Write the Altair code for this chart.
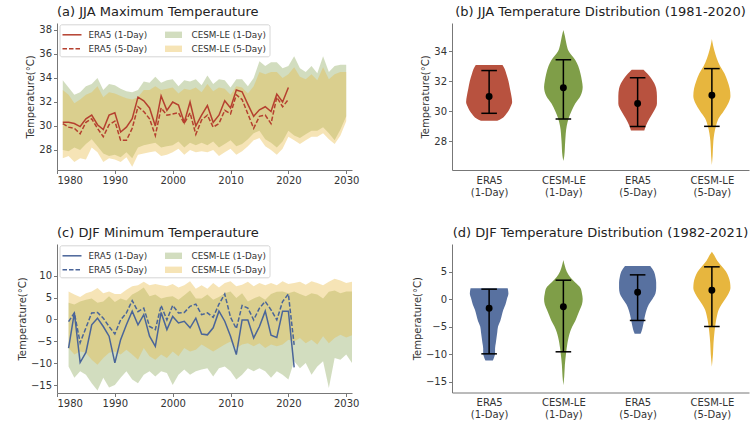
import altair as alt
import pandas as pd

FONT = "DejaVu Sans"

# ---------------- JJA maximum temperature (panel a) ----------------
jja_years = list(range(1981, 2021))
jja_era5_1day = [30.3, 30.3, 30.2, 29.95, 30.6, 30.9, 30.1, 29.7, 30.9, 31.1,
                 29.5, 29.9, 30.6, 32.4, 32.1, 31.5, 30.0, 32.5, 31.3, 32.0,
                 31.75, 30.3, 32.0, 30.0, 30.9, 31.7, 30.3, 30.9, 32.1, 31.5,
                 33.0, 32.85, 31.8, 30.8, 31.35, 31.6, 31.2, 32.65, 32.0, 33.2]
jja_era5_5day = [30.2, 29.9, 29.8, 29.35, 30.3, 30.6, 29.8, 29.1, 30.1, 30.4,
                 28.8, 28.8, 29.8, 31.6, 31.2, 30.6, 29.2, 31.5, 30.9, 31.0,
                 31.1, 30.2, 31.1, 29.3, 30.5, 30.9, 29.9, 30.2, 31.3, 31.0,
                 32.6, 32.2, 31.0, 29.8, 30.8, 30.9, 30.2, 32.4, 31.6, 32.2]

jja_cesm_years = list(range(1981, 2031))
jja_cesm1_hi = [33.8, 33.2, 32.6, 32.8, 33.3, 33.5, 34.0, 33.0, 33.5, 33.4,
                33.1, 32.9, 32.8, 33.0, 33.7, 33.6, 34.1, 33.6, 33.8, 33.9,
                33.3, 33.8, 33.7, 33.9, 33.4, 34.2, 33.5, 33.9, 33.8, 33.2,
                33.9, 33.9, 33.3, 34.0, 35.4, 35.0, 35.3, 35.3, 34.8, 35.0,
                35.8, 34.8, 34.5, 35.0, 34.4, 35.8, 34.5, 35.0, 35.1, 35.1]
jja_cesm1_lo = [28.0, 27.9, 28.2, 28.0, 28.5, 28.9, 28.3, 27.7, 27.5, 27.6,
                27.4, 27.8, 27.3, 28.2, 28.4, 28.5, 28.6, 28.2, 28.3, 28.4,
                28.7, 28.2, 28.6, 28.4, 28.6, 28.4, 28.7, 28.2, 28.5, 28.8,
                28.3, 28.5, 28.9, 29.4, 29.6, 28.9, 28.6, 28.2, 28.7, 29.6,
                29.2, 29.0, 29.3, 29.6, 29.6, 29.9, 29.4, 28.8, 29.7, 30.8]
jja_cesm5_hi = [33.0, 32.6, 31.9, 32.2, 32.6, 32.8, 33.3, 32.4, 32.8, 32.7,
                32.5, 32.3, 32.2, 32.4, 33.0, 33.0, 33.3, 33.0, 33.1, 33.2,
                32.7, 33.1, 33.0, 33.2, 32.8, 33.5, 32.9, 33.2, 33.1, 32.6,
                33.3, 33.2, 32.7, 33.3, 34.5, 34.3, 34.5, 34.5, 34.0, 34.3,
                34.9, 34.1, 33.9, 34.3, 33.8, 34.9, 33.9, 34.3, 34.5, 34.5]
jja_cesm5_lo = [27.3, 27.5, 27.0, 27.3, 27.2, 28.2, 27.8, 27.0, 27.3, 27.2,
                27.0, 27.4, 26.6, 27.6, 27.7, 27.8, 27.9, 27.5, 27.6, 27.8,
                28.1, 27.6, 28.0, 27.8, 27.9, 27.8, 28.0, 27.5, 27.8, 28.1,
                27.6, 27.9, 28.3, 28.8, 29.0, 28.3, 28.0, 27.6, 28.1, 29.1,
                28.8, 28.5, 28.8, 29.1, 29.1, 29.4, 28.9, 28.5, 29.2, 30.4]

# ---------------- DJF minimum temperature (panel c) ----------------
djf_years = list(range(1982, 2022))
djf_era5_1day = [-6.5, 1.5, -9.8, -7.5, -1.2, 0.3, -1.6, -3.8, -9.9, -4.6,
                 -1.2, 1.9, -1.2, 1.1, -3.8, -6.1, 1.6, -2.3, 0.7, -0.8,
                 -0.4, -1.9, 0.3, -3.3, -3.5, -1.9, 1.9, -0.4, -3.8, -8.0,
                 -0.1, -0.1, -4.2, -1.6, 1.9, -3.6, -4.1, 1.9, 1.9, -10.9]
djf_era5_5day = [-0.5, 1.5, -5.3, -1.9, 1.5, 1.6, 0.3, -1.6, -3.3, -0.1,
                 1.5, 4.3, 1.8, 2.6, -1.6, -2.3, 3.2, -0.1, 3.2, 1.5,
                 1.6, 3.0, 3.5, 1.1, 1.5, 0.5, 3.5, 5.8, 0.5, -2.1,
                 3.2, 2.6, -0.1, 2.6, 4.1, 2.2, -0.1, 4.1, 5.8, -5.8]

djf_cesm_years = list(range(1982, 2032))
djf_cesm1_hi = [3.8, 3.4, 4.1, 4.5, 4.8, 3.8, 4.1, 5.3, 4.0, 4.8,
                4.3, 5.7, 6.4, 7.3, 5.3, 5.7, 4.8, 5.1, 5.3, 4.5,
                5.5, 6.6, 4.8, 4.8, 5.7, 4.5, 5.1, 6.0, 6.4, 4.9,
                6.0, 4.1, 4.8, 5.3, 4.5, 5.8, 6.3, 6.4, 6.0, 6.4,
                5.8, 5.3, 6.0, 5.7, 4.8, 6.3, 6.6, 6.0, 6.4, 6.4]
djf_cesm1_lo = [-10.7, -13.3, -11.8, -12.6, -14.5, -16.2, -13.3, -15.5, -14.9, -13.3,
                -11.8, -13.7, -14.5, -12.6, -11.8, -13.0, -11.8, -12.2, -14.9, -12.6,
                -11.4, -12.6, -11.8, -11.4, -11.1, -13.0, -11.1, -10.7, -11.8, -13.7,
                -12.6, -11.1, -11.8, -11.1, -11.8, -13.3, -11.8, -12.6, -13.7, -9.5,
                -11.1, -9.9, -12.6, -10.7, -9.5, -15.6, -8.8, -9.2, -8.0, -9.9]
djf_cesm5_hi = [6.4, 5.7, 5.1, 6.0, 6.4, 7.2, 6.0, 6.4, 5.8, 5.8,
                6.8, 7.6, 7.8, 8.6, 7.8, 8.1, 7.8, 7.6, 8.1, 7.3,
                7.8, 8.7, 7.0, 7.8, 7.0, 8.3, 7.3, 8.3, 8.7, 7.6,
                7.9, 8.6, 7.6, 8.3, 7.8, 8.3, 7.8, 8.7, 8.1, 8.3,
                8.6, 7.9, 8.7, 8.3, 7.8, 8.6, 9.3, 8.9, 8.3, 8.6]
djf_cesm5_lo = [-6.5, -8.0, -7.3, -7.6, -9.2, -10.3, -8.8, -7.6, -7.3, -8.0,
                -6.9, -8.0, -9.2, -6.5, -8.4, -9.2, -8.0, -8.8, -7.3, -8.4,
                -6.5, -7.3, -6.9, -5.7, -6.5, -7.3, -6.5, -5.7, -5.0, -6.5,
                -5.7, -5.4, -6.1, -5.4, -6.5, -5.7, -6.1, -5.7, -4.6, -5.0,
                -4.2, -5.4, -4.6, -5.7, -3.8, -5.4, -4.2, -3.5, -4.1, -3.6]

# ---------------- violin profiles: temperature levels and half widths ----------------
violin_names = ["ERA5 (1-Day)", "CESM-LE (1-Day)", "ERA5 (5-Day)", "CESM-LE (5-Day)"]

jja_v_era5_1_t = [29.35, 29.5, 29.8, 30.0, 30.3, 30.6, 31.0, 31.5, 32.0, 32.5, 32.8, 33.07]
jja_v_era5_1_w = [0.11, 0.17, 0.23, 0.26, 0.29, 0.31, 0.30, 0.28, 0.26, 0.23, 0.21, 0.18]
jja_v_cesm_1_t = [26.67, 27.0, 28.0, 29.0, 29.5, 30.0, 30.5, 31.0, 31.6, 32.0, 32.5, 33.0, 33.4, 34.0, 34.5, 35.0, 35.4]
jja_v_cesm_1_w = [0.0, 0.012, 0.025, 0.045, 0.07, 0.11, 0.16, 0.23, 0.26, 0.25, 0.23, 0.2, 0.16, 0.07, 0.04, 0.02, 0.0]
jja_v_era5_5_t = [28.7, 29.0, 29.5, 30.0, 30.5, 31.0, 31.5, 32.2, 32.5, 32.75]
jja_v_era5_5_w = [0.09, 0.11, 0.16, 0.22, 0.26, 0.26, 0.25, 0.18, 0.13, 0.08]
jja_v_cesm_5_t = [26.4, 27.0, 28.0, 29.0, 29.5, 30.0, 30.5, 31.0, 31.5, 32.0, 32.5, 33.0, 34.0, 34.4, 34.8]
jja_v_cesm_5_w = [0.0, 0.01, 0.02, 0.055, 0.09, 0.16, 0.22, 0.25, 0.24, 0.21, 0.17, 0.11, 0.035, 0.015, 0.0]

djf_v_era5_1_t = [-11.2, -10.5, -10, -9, -8, -7, -6, -5, -4, -3, -2, -1, 0, 1, 1.97]
djf_v_era5_1_w = [0.05, 0.07, 0.08, 0.08, 0.09, 0.1, 0.11, 0.12, 0.15, 0.17, 0.19, 0.22, 0.24, 0.26, 0.25]
djf_v_cesm_1_t = [-15.7, -14, -12, -10, -8, -7, -6, -5, -4, -3, -2, -1, 0, 1, 2, 3, 4, 5, 6, 7.1]
djf_v_cesm_1_w = [0.0, 0.012, 0.02, 0.035, 0.055, 0.07, 0.09, 0.12, 0.16, 0.19, 0.22, 0.25, 0.26, 0.25, 0.23, 0.16, 0.09, 0.045, 0.02, 0.0]
djf_v_era5_5_t = [-6.3, -6, -5, -4, -3, -2, -1, 0, 1, 2, 3, 4, 5, 6.0]
djf_v_era5_5_w = [0.04, 0.05, 0.07, 0.085, 0.1, 0.12, 0.15, 0.2, 0.24, 0.25, 0.25, 0.24, 0.22, 0.17]
djf_v_cesm_5_t = [-12.3, -10, -8, -6, -4, -3, -2, -1, 0, 1, 2, 3, 4, 5, 6, 7, 8, 8.6]
djf_v_cesm_5_w = [0.0, 0.015, 0.022, 0.035, 0.055, 0.07, 0.09, 0.13, 0.18, 0.225, 0.25, 0.245, 0.225, 0.19, 0.13, 0.07, 0.03, 0.0]

# mean and whisker ends for each distribution
jja_mean = [30.97, 31.55, 30.5, 31.05]
jja_low = [29.85, 29.47, 28.97, 28.98]
jja_high = [32.7, 33.42, 32.22, 32.83]
djf_mean = [-1.67, -1.42, 1.24, 1.6]
djf_low = [-9.97, -9.6, -3.9, -5.0]
djf_high = [1.79, 3.42, 4.39, 5.85]

# ---------------- colours ----------------
RED_LINE = "#b5402f"
BLUE_LINE = "#4a6599"
GREEN_FILL = "#7f9e48"
YELLOW_FILL = "#e8b83e"
RED_V = "#b8523f"
GREEN_V = "#7f9e48"
BLUE_V = "#5871a0"
YELLOW_V = "#e7b63e"

Y_TITLE = "Temperature(°C)"
W_TS = 295
W_V = 297


def legend_layers(line_color):
    """Boxed two-column key drawn in the upper-left corner of a time-series panel."""
    frame = alt.Chart().mark_rect(fill="white", fillOpacity=0.8, stroke="#cccccc",
                                  strokeWidth=0.8, cornerRadius=2).encode(
        x=alt.value(3), x2=alt.value(213), y=alt.value(1.8), y2=alt.value(33.8))
    solid = alt.Chart().mark_rule(color=line_color, strokeWidth=1.5).encode(
        x=alt.value(5.5), x2=alt.value(24.5), y=alt.value(11.8))
    dashed = alt.Chart().mark_rule(color=line_color, strokeWidth=1.5, strokeDash=[4.5, 2]).encode(
        x=alt.value(5.5), x2=alt.value(24.5), y=alt.value(25.8))
    g_patch = alt.Chart().mark_rect(color=GREEN_FILL, opacity=0.35).encode(
        x=alt.value(108), x2=alt.value(125), y=alt.value(8.6), y2=alt.value(15))
    y_patch = alt.Chart().mark_rect(color=YELLOW_FILL, opacity=0.38).encode(
        x=alt.value(108), x2=alt.value(125), y=alt.value(22.6), y2=alt.value(29))
    texts = []
    for x, y, s in [(31.5, 11.8, "ERA5 (1-Day)"), (31.5, 25.8, "ERA5 (5-Day)"),
                    (134.5, 11.8, "CESM-LE (1-Day)"), (134.5, 25.8, "CESM-LE (5-Day)")]:
        texts.append(alt.Chart().mark_text(align="left", baseline="middle", font=FONT,
                                           fontSize=8.8, color="#333333").encode(
            x=alt.value(x), y=alt.value(y), text=alt.value(s)))
    return [frame, solid, dashed, g_patch, y_patch] + texts


def ts_panel(cesm_years, c1_lo, c1_hi, c5_lo, c5_hi, years, e1, e5,
             line_color, y_domain, y_ticks, height, title):
    band = pd.DataFrame({"year": cesm_years, "c1_lo": c1_lo, "c1_hi": c1_hi,
                         "c5_lo": c5_lo, "c5_hi": c5_hi})
    era = pd.DataFrame({"year": years, "e1": e1, "e5": e5})
    xs = alt.Scale(domain=[1980, 2031], nice=False, zero=False)
    xa = alt.Axis(values=list(range(1980, 2031, 10)), format="d", title=None)
    ys = alt.Scale(domain=y_domain, nice=False, zero=False)
    ya = alt.Axis(values=y_ticks, title=Y_TITLE)
    x = alt.X("year:Q", scale=xs, axis=xa)

    green = alt.Chart(band).mark_area(color=GREEN_FILL, opacity=0.35).encode(
        x=x, y=alt.Y("c1_lo:Q", scale=ys, axis=ya), y2="c1_hi:Q")
    yellow = alt.Chart(band).mark_area(color=YELLOW_FILL, opacity=0.38).encode(
        x=x, y=alt.Y("c5_lo:Q", scale=ys, axis=ya), y2="c5_hi:Q")
    l1 = alt.Chart(era).mark_line(color=line_color, strokeWidth=1.5).encode(
        x=x, y=alt.Y("e1:Q", scale=ys, axis=ya))
    l5 = alt.Chart(era).mark_line(color=line_color, strokeWidth=1.5, strokeDash=[4.5, 2]).encode(
        x=x, y=alt.Y("e5:Q", scale=ys, axis=ya))
    return alt.layer(green, yellow, l1, l5, *legend_layers(line_color)).properties(
        width=W_TS, height=height,
        title=alt.TitleParams(title, anchor="start", frame="group", offset=4))


def violin_panel(profiles, means, lows, highs, colors, y_domain, y_ticks, height, title):
    sdf = pd.DataFrame({"pos": [1, 2, 3, 4], "mean": means, "lo": lows, "hi": highs})

    xs = alt.Scale(domain=[0.5, 4.5], nice=False, zero=False)
    ys = alt.Scale(domain=y_domain, nice=False, zero=False)
    label_expr = " : ".join(
        f"datum.value == {i + 1} ? ['{n.split(' ')[0]}', '{n.split(' ')[1]}']"
        for i, n in enumerate(violin_names)) + " : ''"
    xa = alt.Axis(values=[1, 2, 3, 4], labelExpr=label_expr, title=None, ticks=False,
                  labelPadding=5, labelLineHeight=12)
    ya = alt.Axis(values=y_ticks, title=Y_TITLE)

    # one closed outline per distribution: left edge going up, right edge coming down
    layers = []
    for i, (temps, widths) in enumerate(profiles):
        pos = i + 1
        vdf = pd.DataFrame({"temp": temps, "hw": widths})
        layers.append(
            alt.Chart(vdf).transform_calculate(
                left=f"{pos} - datum.hw", right=f"{pos} + datum.hw"
            ).mark_area(orient="horizontal", interpolate="monotone", color=colors[i]).encode(
                y=alt.Y("temp:Q", scale=ys, axis=ya),
                x=alt.X("left:Q", scale=xs, axis=xa),
                x2="right:Q"))
    stem = alt.Chart(sdf).mark_rule(color="black", strokeWidth=1.5).encode(
        x=alt.X("pos:Q", scale=xs, axis=xa), y=alt.Y("lo:Q", scale=ys, axis=ya), y2="hi:Q")
    caps = alt.Chart(sdf).transform_fold(["lo", "hi"], as_=["end", "val"]).transform_calculate(
        c0="datum.pos - 0.105", c1="datum.pos + 0.105"
    ).mark_rule(color="black", strokeWidth=1.5).encode(
        x=alt.X("c0:Q", scale=xs, axis=xa), x2="c1:Q", y=alt.Y("val:Q", scale=ys, axis=ya))
    dots = alt.Chart(sdf).mark_circle(color="black", size=48, opacity=1).encode(
        x=alt.X("pos:Q", scale=xs, axis=xa), y=alt.Y("mean:Q", scale=ys, axis=ya))
    return alt.layer(*layers, stem, caps, dots).properties(
        width=W_V, height=height,
        title=alt.TitleParams(title, anchor="middle", frame="group", offset=4))


panel_a = ts_panel(jja_cesm_years, jja_cesm1_lo, jja_cesm1_hi, jja_cesm5_lo, jja_cesm5_hi,
                   jja_years, jja_era5_1day, jja_era5_5day, RED_LINE,
                   [26.33, 38.58], [28, 30, 32, 34, 36, 38], 147,
                   "(a) JJA Maximum Temperauture")
panel_b = violin_panel(
    [(jja_v_era5_1_t, jja_v_era5_1_w), (jja_v_cesm_1_t, jja_v_cesm_1_w),
     (jja_v_era5_5_t, jja_v_era5_5_w), (jja_v_cesm_5_t, jja_v_cesm_5_w)],
    jja_mean, jja_low, jja_high, [RED_V, GREEN_V, RED_V, YELLOW_V],
    [26.07, 35.87], [28, 30, 32, 34], 147,
    "(b) JJA Temperature Distribution (1981-2020)")
panel_c = ts_panel(djf_cesm_years, djf_cesm1_lo, djf_cesm1_hi, djf_cesm5_lo, djf_cesm5_hi,
                   djf_years, djf_era5_1day, djf_era5_5day, BLUE_LINE,
                   [-16.75, 17.2], [-15, -10, -5, 0, 5, 10], 149,
                   "(c) DJF Minimum Temperauture")
panel_d = violin_panel(
    [(djf_v_era5_1_t, djf_v_era5_1_w), (djf_v_cesm_1_t, djf_v_cesm_1_w),
     (djf_v_era5_5_t, djf_v_era5_5_w), (djf_v_cesm_5_t, djf_v_cesm_5_w)],
    djf_mean, djf_low, djf_high, [BLUE_V, GREEN_V, BLUE_V, YELLOW_V],
    [-17.0, 10.0], [-15, -10, -5, 0, 5], 148.5,
    "(d) DJF Temperature Distribution (1982-2021)")

chart = alt.concat(
    panel_a, panel_b, panel_c, panel_d, columns=2,
    spacing={"row": 74, "column": 100}, bounds="flush"
).properties(
    padding={"left": 17, "top": 6, "right": 2, "bottom": 2}
).configure_view(stroke=None).configure_axis(
    grid=False, domainColor="#777777", tickColor="#777777", domainWidth=1, tickWidth=1,
    tickSize=3.5, labelFont=FONT, labelFontSize=10, labelColor="#333333", labelPadding=2,
    titleFont=FONT, titleFontSize=10, titleFontWeight="normal", titleColor="#333333",
    titlePadding=3
).configure_title(
    font=FONT, fontSize=13, fontWeight="normal", color="#222222"
)

chart.save("out.html", embed_options={"renderer": "svg", "actions": False})
